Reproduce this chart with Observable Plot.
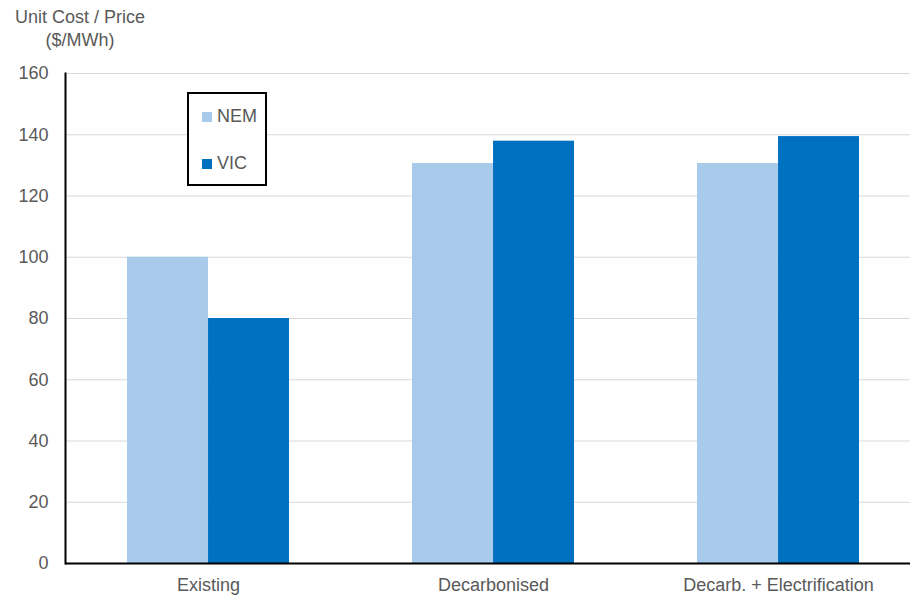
<!DOCTYPE html>
<html>
<head>
<meta charset="utf-8">
<script src="https://cdn.jsdelivr.net/npm/d3@7"></script>
<script src="https://cdn.jsdelivr.net/npm/@observablehq/plot@0.6"></script>
<style>
  body { margin: 0; background: #fff; font-family: "Liberation Sans", Arial, sans-serif; }
  #wrap { position: relative; width: 910px; height: 596px; }
  #title { height: 58px; position: relative; color: #595959; font-size: 18px; line-height: 23px; }
  #title div { position: absolute; left: 0; width: 160px; text-align: center; }
  #legend { position: absolute; left: 187px; top: 92px; width: 76px; height: 90px;
            border: 2px solid #000; background: #fff; color: #595959; font-size: 18px; }
  .item { position: absolute; left: 13px; display: flex; align-items: center; }
  .sw { width: 10px; height: 10px; margin-right: 5px; }
</style>
</head>
<body>
<div id="wrap">
  <div id="title"><div style="top:6px">Unit Cost / Price</div><div style="top:29px">($/MWh)</div></div>
  <div id="chart"></div>
  <div id="legend"></div>
</div>
<script>
// Unit cost / price by scenario, NEM vs VIC
const categories = ["Existing", "Decarbonised", "Decarb. + Electrification"];
const series = ["NEM", "VIC"];
const nemValues = [100, 130.6, 130.6];
const vicValues = [80, 137.9, 139.4];
const yTicks = [0, 20, 40, 60, 80, 100, 120, 140, 160];
const seriesColors = ["#a9cbeb", "#0070c0"];

const data = categories.flatMap((c, i) => [
  {category: c, series: "NEM", value: nemValues[i]},
  {category: c, series: "VIC", value: vicValues[i]}
]);

// band layout for the category axis
const xRange = [65, 921];
const padInner = 0.432, padOuter = 0.216;
const step = (xRange[1] - xRange[0]) / (categories.length - padInner + 2 * padOuter);
const half = step * (1 - padInner) / 2;

const chart = Plot.plot({
  width: 910,
  height: 538,
  marginTop: 15,
  marginBottom: 33,
  marginLeft: 65,
  marginRight: 0,
  style: {fontFamily: "Liberation Sans, Arial, sans-serif", fontSize: "18px", color: "#595959", background: "#fff"},
  x: {domain: categories, range: xRange, paddingInner: padInner, paddingOuter: padOuter, label: null},
  y: {domain: [0, 160], label: null},
  color: {domain: series, range: seriesColors},
  marks: [
    Plot.gridY(yTicks, {stroke: "#d9d9d9", strokeOpacity: 1, strokeWidth: 1}),
    Plot.barY(data.filter(d => d.series === "NEM"), {x: "category", y: "value", fill: "series", insetRight: half}),
    Plot.barY(data.filter(d => d.series === "VIC"), {x: "category", y: "value", fill: "series", insetLeft: half}),
    Plot.axisY(yTicks, {tickSize: 0, tickPadding: 17, fill: "#595959", label: null}),
    Plot.axisX({tickSize: 0, tickPadding: 15, fill: "#595959", label: null}),
    Plot.ruleY([0], {stroke: "#000", strokeWidth: 2}),
    Plot.frame({anchor: "left", stroke: "#000", strokeWidth: 2})
  ]
});
document.getElementById("chart").appendChild(chart);

const legend = document.getElementById("legend");
series.forEach((s, i) => {
  const item = document.createElement("div");
  item.className = "item";
  item.style.top = (i === 0 ? 12 : 59) + "px";
  const sw = document.createElement("span");
  sw.className = "sw";
  sw.style.background = chart.scale("color").apply(s);
  const label = document.createElement("span");
  label.textContent = s;
  item.append(sw, label);
  legend.appendChild(item);
});
</script>
</body>
</html>
